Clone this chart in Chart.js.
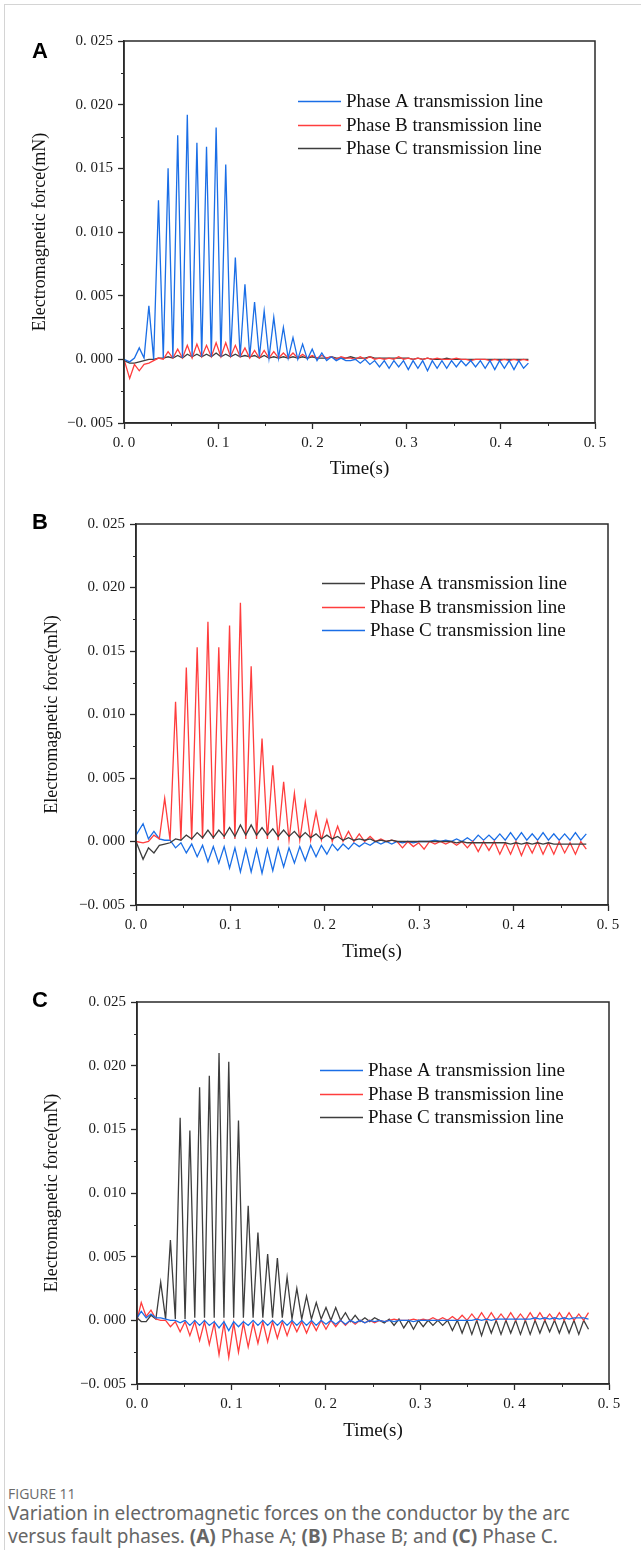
<!DOCTYPE html>
<html>
<head>
<meta charset="utf-8">
<script src="https://cdn.jsdelivr.net/npm/chart.js@4.4.1/dist/chart.umd.min.js"></script>
<style>
  body { margin: 0; background: #fff; }
  #page { position: relative; width: 641px; height: 1550px; overflow: hidden; background: #fff; }
  .frame { position: absolute; left: 4px; top: 4px; right: 0; bottom: 0; border-top: 1px solid #d4d4d4; border-left: 1px solid #d4d4d4; }
  canvas { position: absolute; left: 0; }
  .tag { position: absolute; left: 32px; font: bold 22px "Liberation Sans", Arial, sans-serif; line-height: 22px; color: #000; }
  .fig-no { position: absolute; left: 8px; top: 1485px; font: 500 14px "Open Sans", "Noto Sans", sans-serif; line-height: 18px; color: #6a6a6a; }
  .fig-text { position: absolute; left: 8px; top: 1502px; font: 19px "Noto Sans", "Open Sans", sans-serif; line-height: 23px; color: #666; }
  .fig-text b { font-weight: 700; }
</style>
</head>
<body>
<div id="page">
  <div class="frame"></div>
  <canvas id="chartA" width="641" height="480" style="top:0px"></canvas>
  <canvas id="chartB" width="641" height="486" style="top:480px"></canvas>
  <canvas id="chartC" width="641" height="490" style="top:966px"></canvas>
  <div class="tag" style="top:40px">A</div>
  <div class="tag" style="top:511px">B</div>
  <div class="tag" style="top:989px">C</div>
  <div class="fig-no">FIGURE 11</div>
  <div class="fig-text">Variation in electromagnetic forces on the conductor by the arc<br>versus fault phases. <b>(A)</b> Phase A; <b>(B)</b> Phase B; and <b>(C)</b> Phase C.</div>
</div>
<script>
// sample times (s) and forces (mN) for the fault on phase A
const timeA = [
  0, 0.006, 0.0111, 0.0162, 0.0213, 0.0264, 0.0315, 0.0366, 0.0417, 0.0468,
  0.0519, 0.057, 0.0621, 0.0672, 0.0723, 0.0774, 0.0825, 0.0876, 0.0927, 0.0978,
  0.1029, 0.108, 0.1131, 0.1182, 0.1233, 0.1284, 0.1335, 0.1386, 0.1437, 0.1488,
  0.1539, 0.159, 0.1641, 0.1692, 0.1743, 0.1794, 0.1845, 0.1896, 0.1947, 0.1998,
  0.2049, 0.21, 0.2151, 0.2202, 0.2253, 0.2304, 0.2355, 0.2406, 0.2457, 0.2508,
  0.2559, 0.261, 0.2661, 0.2712, 0.2763, 0.2814, 0.2865, 0.2916, 0.2967, 0.3018,
  0.3069, 0.312, 0.3171, 0.3222, 0.3273, 0.3324, 0.3375, 0.3426, 0.3477, 0.3528,
  0.3579, 0.363, 0.3681, 0.3732, 0.3783, 0.3834, 0.3885, 0.3936, 0.3987, 0.4038,
  0.4089, 0.414, 0.4191, 0.4242, 0.4293
];
const faultA_phaseA = [
  0.0000, -0.0002, 0.0001, 0.0009, 0.0001, 0.0042, 0.0000, 0.0125, 0.0001, 0.0150,
  0.0001, 0.0176, 0.0001, 0.0192, 0.0002, 0.0170, 0.0002, 0.0167, 0.0002, 0.0182,
  0.0002, 0.0153, 0.0002, 0.0080, 0.0002, 0.0059, 0.0002, 0.0045, 0.0002, 0.0038,
  0.0001, 0.0033, 0.0001, 0.0025, 0.0001, 0.0017, 0.0000, 0.0012, 0.0000, 0.0008,
  -0.0001, 0.0005, -0.0001, 0.0002, -0.0001, 0.0001, -0.0001, -0.0001, 0.0000, -0.0003,
  0.0000, -0.0004, -0.0001, -0.0006, -0.0001, -0.0007, -0.0001, -0.0006, -0.0001, -0.0008,
  -0.0001, -0.0007, -0.0001, -0.0009, -0.0001, -0.0007, -0.0001, -0.0007, -0.0001, -0.0006,
  -0.0001, -0.0005, -0.0001, -0.0006, -0.0001, -0.0007, -0.0001, -0.0008, -0.0001, -0.0007,
  -0.0001, -0.0008, -0.0001, -0.0007, -0.0003
];
const faultA_phaseB = [
  0.0000, -0.0015, -0.0004, -0.0009, -0.0004, -0.0003, -0.0001, 0.0001, 0.0000, 0.0006,
  0.0001, 0.0008, 0.0001, 0.0011, 0.0001, 0.0012, 0.0002, 0.0011, 0.0002, 0.0013,
  0.0002, 0.0013, 0.0002, 0.0011, 0.0002, 0.0009, 0.0001, 0.0007, 0.0001, 0.0007,
  0.0001, 0.0006, 0.0001, 0.0005, 0.0001, 0.0005, 0.0001, 0.0004, 0.0001, 0.0003,
  0.0001, 0.0003, 0.0001, 0.0002, 0.0000, 0.0002, 0.0001, 0.0001, 0.0000, 0.0002,
  0.0000, 0.0002, 0.0000, 0.0001, 0.0000, 0.0001, 0.0000, 0.0002, 0.0000, 0.0001,
  0.0000, 0.0001, 0.0000, 0.0001, 0.0000, 0.0001, 0.0000, 0.0000, 0.0000, 0.0001,
  0.0000, 0.0000, -0.0001, 0.0000, 0.0000, 0.0000, -0.0001, 0.0000, -0.0001, 0.0000,
  -0.0001, 0.0000, -0.0001, 0.0000, -0.0001
];
const faultA_phaseC = [
  -0.0001, -0.0003, -0.0003, -0.0002, -0.0001, 0.0000, 0.0000, 0.0001, 0.0001, 0.0002,
  0.0001, 0.0003, 0.0001, 0.0004, 0.0002, 0.0004, 0.0002, 0.0004, 0.0002, 0.0005,
  0.0002, 0.0004, 0.0002, 0.0004, 0.0002, 0.0003, 0.0002, 0.0003, 0.0001, 0.0003,
  0.0001, 0.0002, 0.0001, 0.0002, 0.0001, 0.0002, 0.0001, 0.0002, 0.0001, 0.0002,
  0.0001, 0.0001, 0.0001, 0.0002, 0.0001, 0.0001, 0.0001, 0.0002, 0.0001, 0.0001,
  0.0001, 0.0002, 0.0001, 0.0001, 0.0001, 0.0001, 0.0001, 0.0001, 0.0001, 0.0001,
  0.0000, 0.0001, 0.0000, 0.0001, 0.0000, 0.0000, 0.0000, 0.0001, 0.0000, 0.0000,
  0.0000, 0.0000, 0.0000, 0.0000, 0.0000, 0.0000, 0.0000, 0.0000, 0.0000, 0.0000,
  0.0000, 0.0000, 0.0000, 0.0000, 0.0000
];

// fault on phase B
const timeB = [
  0, 0.0075, 0.0132, 0.0190, 0.0247, 0.0304, 0.0361, 0.0419, 0.0476, 0.0533,
  0.0590, 0.0648, 0.0705, 0.0762, 0.0819, 0.0877, 0.0934, 0.0991, 0.1048, 0.1106,
  0.1163, 0.1220, 0.1277, 0.1335, 0.1392, 0.1449, 0.1506, 0.1564, 0.1621, 0.1678,
  0.1735, 0.1793, 0.1850, 0.1907, 0.1964, 0.2022, 0.2079, 0.2136, 0.2193, 0.2251,
  0.2308, 0.2365, 0.2422, 0.2480, 0.2537, 0.2594, 0.2651, 0.2709, 0.2766, 0.2823,
  0.2880, 0.2938, 0.2995, 0.3052, 0.3109, 0.3167, 0.3224, 0.3281, 0.3338, 0.3396,
  0.3453, 0.3510, 0.3567, 0.3625, 0.3682, 0.3739, 0.3796, 0.3854, 0.3911, 0.3968,
  0.4025, 0.4083, 0.4140, 0.4197, 0.4254, 0.4312, 0.4369, 0.4426, 0.4483, 0.4541,
  0.4598, 0.4655, 0.4712, 0.4770
];
const faultB_phaseA = [
  0.0000, -0.0014, -0.0005, -0.0009, -0.0003, -0.0002, -0.0001, 0.0002, 0.0001, 0.0005,
  0.0002, 0.0007, 0.0003, 0.0009, 0.0003, 0.0009, 0.0004, 0.0011, 0.0004, 0.0013,
  0.0005, 0.0013, 0.0005, 0.0011, 0.0005, 0.0010, 0.0004, 0.0009, 0.0004, 0.0008,
  0.0003, 0.0007, 0.0003, 0.0006, 0.0002, 0.0005, 0.0002, 0.0004, 0.0001, 0.0003,
  0.0001, 0.0002, 0.0001, 0.0002, 0.0000, 0.0001, 0.0000, 0.0001, 0.0000, 0.0000,
  0.0000, 0.0000, 0.0000, 0.0000, 0.0000, 0.0000, 0.0000, 0.0000, 0.0000, -0.0001,
  0.0000, -0.0001, -0.0001, -0.0001, -0.0001, -0.0001, -0.0001, -0.0001, -0.0001, -0.0002,
  -0.0001, -0.0002, -0.0001, -0.0002, -0.0001, -0.0002, -0.0001, -0.0002, -0.0002, -0.0002,
  -0.0002, -0.0002, -0.0002, -0.0002
];
const faultB_phaseB = [
  0.0000, -0.0001, 0.0000, 0.0005, 0.0002, 0.0034, 0.0001, 0.0110, 0.0001, 0.0137,
  0.0001, 0.0153, 0.0002, 0.0173, 0.0002, 0.0153, 0.0002, 0.0170, 0.0002, 0.0188,
  0.0002, 0.0138, 0.0002, 0.0081, 0.0002, 0.0060, 0.0001, 0.0047, 0.0001, 0.0038,
  0.0001, 0.0031, 0.0001, 0.0023, 0.0001, 0.0017, 0.0000, 0.0012, 0.0000, 0.0008,
  0.0000, 0.0006, 0.0000, 0.0004, 0.0000, 0.0002, 0.0000, 0.0001, 0.0000, -0.0005,
  0.0000, -0.0004, -0.0001, -0.0006, 0.0000, -0.0002, 0.0000, -0.0002, 0.0000, -0.0003,
  0.0000, -0.0005, 0.0000, -0.0008, 0.0000, -0.0007, 0.0000, -0.0010, -0.0001, -0.0010,
  0.0000, -0.0011, -0.0001, -0.0009, 0.0000, -0.0010, -0.0001, -0.0010, 0.0000, -0.0009,
  -0.0001, -0.0010, 0.0000, -0.0006
];
const faultB_phaseC = [
  0.0005, 0.0014, 0.0002, 0.0008, 0.0002, 0.0001, 0.0001, -0.0005, -0.0001, -0.0009,
  -0.0002, -0.0012, -0.0003, -0.0016, -0.0004, -0.0017, -0.0004, -0.0021, -0.0005, -0.0024,
  -0.0006, -0.0024, -0.0006, -0.0025, -0.0006, -0.0023, -0.0005, -0.0020, -0.0005, -0.0017,
  -0.0004, -0.0015, -0.0003, -0.0012, -0.0003, -0.0010, -0.0002, -0.0007, -0.0002, -0.0006,
  -0.0001, -0.0004, -0.0001, -0.0003, 0.0000, -0.0002, 0.0000, -0.0002, 0.0000, -0.0001,
  0.0000, -0.0001, 0.0000, 0.0000, 0.0000, 0.0001, 0.0000, 0.0001, 0.0000, 0.0002,
  0.0000, 0.0003, 0.0000, 0.0005, 0.0001, 0.0005, 0.0001, 0.0006, 0.0001, 0.0007,
  0.0001, 0.0007, 0.0001, 0.0006, 0.0001, 0.0007, 0.0001, 0.0006, 0.0001, 0.0006,
  0.0001, 0.0007, 0.0001, 0.0006
];

// fault on phase C
const timeC = [
  0, 0.0045, 0.0097, 0.0148, 0.0200, 0.0251, 0.0303, 0.0354, 0.0406, 0.0457,
  0.0509, 0.0560, 0.0612, 0.0663, 0.0715, 0.0766, 0.0818, 0.0869, 0.0921, 0.0972,
  0.1024, 0.1075, 0.1127, 0.1178, 0.1230, 0.1281, 0.1333, 0.1384, 0.1436, 0.1487,
  0.1539, 0.1590, 0.1642, 0.1693, 0.1745, 0.1796, 0.1848, 0.1899, 0.1951, 0.2002,
  0.2054, 0.2105, 0.2157, 0.2208, 0.2260, 0.2311, 0.2363, 0.2414, 0.2466, 0.2517,
  0.2569, 0.2620, 0.2672, 0.2723, 0.2775, 0.2826, 0.2878, 0.2929, 0.2981, 0.3032,
  0.3084, 0.3135, 0.3187, 0.3238, 0.3290, 0.3341, 0.3393, 0.3444, 0.3496, 0.3547,
  0.3599, 0.3650, 0.3702, 0.3753, 0.3805, 0.3856, 0.3908, 0.3959, 0.4011, 0.4062,
  0.4114, 0.4165, 0.4217, 0.4268, 0.4320, 0.4371, 0.4423, 0.4474, 0.4526, 0.4577,
  0.4629, 0.4680, 0.4732, 0.4783
];
const faultC_phaseA = [
  0.0002, 0.0007, 0.0002, 0.0005, 0.0002, 0.0002, 0.0001, 0.0000, 0.0000, -0.0002,
  0.0000, -0.0004, 0.0000, -0.0004, 0.0000, -0.0004, -0.0001, -0.0006, -0.0001, -0.0008,
  -0.0001, -0.0005, -0.0001, -0.0004, 0.0000, -0.0004, 0.0000, -0.0004, 0.0000, -0.0004,
  0.0000, -0.0004, 0.0000, -0.0004, 0.0000, -0.0004, 0.0000, -0.0004, 0.0000, -0.0003,
  0.0000, -0.0003, 0.0000, -0.0003, 0.0000, -0.0002, 0.0000, -0.0002, 0.0000, -0.0001,
  0.0000, -0.0001, 0.0000, -0.0001, 0.0000, 0.0000, 0.0000, -0.0001, 0.0000, 0.0000,
  0.0000, 0.0000, 0.0000, 0.0000, 0.0000, 0.0000, 0.0000, 0.0000, 0.0000, 0.0000,
  0.0001, 0.0000, 0.0001, 0.0000, 0.0001, 0.0001, 0.0001, 0.0001, 0.0001, 0.0001,
  0.0001, 0.0001, 0.0002, 0.0001, 0.0002, 0.0001, 0.0002, 0.0001, 0.0002, 0.0001,
  0.0002, 0.0002, 0.0002, 0.0001
];
const faultC_phaseB = [
  0.0000, 0.0014, 0.0003, 0.0008, 0.0001, 0.0000, 0.0000, -0.0005, -0.0001, -0.0009,
  -0.0001, -0.0012, -0.0001, -0.0016, -0.0001, -0.0019, -0.0002, -0.0027, -0.0002, -0.0029,
  -0.0002, -0.0025, -0.0002, -0.0021, -0.0002, -0.0018, -0.0001, -0.0017, -0.0001, -0.0014,
  -0.0001, -0.0012, -0.0001, -0.0009, -0.0001, -0.0010, -0.0001, -0.0008, 0.0000, -0.0007,
  0.0000, -0.0005, 0.0000, -0.0004, 0.0000, -0.0003, 0.0000, -0.0002, 0.0000, -0.0002,
  0.0000, -0.0001, 0.0000, 0.0001, 0.0000, 0.0000, 0.0000, 0.0001, 0.0000, 0.0001,
  0.0000, 0.0002, 0.0000, 0.0002, 0.0000, 0.0003, 0.0000, 0.0004, 0.0000, 0.0005,
  0.0000, 0.0006, 0.0000, 0.0006, 0.0000, 0.0005, 0.0000, 0.0006, 0.0000, 0.0005,
  0.0000, 0.0006, 0.0000, 0.0006, 0.0000, 0.0005, 0.0000, 0.0006, 0.0000, 0.0006,
  0.0000, 0.0005, 0.0000, 0.0006
];
const faultC_phaseC = [
  0.0002, -0.0001, -0.0001, 0.0004, 0.0001, 0.0030, 0.0001, 0.0063, 0.0001, 0.0159,
  0.0001, 0.0149, 0.0002, 0.0183, 0.0002, 0.0192, 0.0002, 0.0210, 0.0002, 0.0203,
  0.0002, 0.0157, 0.0002, 0.0090, 0.0002, 0.0069, 0.0002, 0.0052, 0.0002, 0.0049,
  0.0002, 0.0034, 0.0001, 0.0025, 0.0001, 0.0019, 0.0001, 0.0014, 0.0001, 0.0010,
  0.0000, 0.0010, 0.0000, 0.0006, -0.0001, 0.0004, -0.0001, 0.0002, -0.0001, 0.0002,
  0.0000, -0.0002, 0.0001, -0.0004, 0.0001, -0.0006, 0.0000, -0.0007, 0.0000, -0.0005,
  0.0000, -0.0004, 0.0000, -0.0004, 0.0000, -0.0008, 0.0000, -0.0010, 0.0000, -0.0011,
  0.0000, -0.0012, 0.0000, -0.0010, 0.0000, -0.0011, 0.0000, -0.0010, 0.0000, -0.0011,
  0.0000, -0.0011, 0.0000, -0.0010, 0.0000, -0.0009, 0.0000, -0.0010, 0.0000, -0.0010,
  0.0000, -0.0011, 0.0000, -0.0007
];

const xMinorTicks = [0.05, 0.15, 0.25, 0.35, 0.45];
const yMinorTicks = [-0.0025, 0.0025, 0.0075, 0.0125, 0.0175, 0.0225];

const BLUE = '#1a6ee6';
const RED = '#ff3d3d';
const DARK = '#3d3d3d';
const AXIS = '#2a2a2a';
const serif = '"Liberation Serif", "Times New Roman", serif';

function formatForce(value) {
  const text = Math.abs(value).toFixed(3).replace('.', '. ');
  return value < -1e-9 ? '\u2212' + text : text;
}

function formatTime(value) {
  return value.toFixed(1).replace('.', '. ');
}

// closed box round the plot plus the short minor ticks
const boxPlugin = {
  id: 'box',
  afterDatasetsDraw(chart) {
    const { ctx, chartArea: a, scales: { x, y } } = chart;
    ctx.save();
    ctx.strokeStyle = AXIS;
    ctx.lineWidth = 1.5;
    ctx.strokeRect(a.left, a.top, a.right - a.left, a.bottom - a.top);
    ctx.lineWidth = 1;
    ctx.beginPath();
    xMinorTicks.forEach(v => {
      const px = Math.round(x.getPixelForValue(v)) + 0.5;
      ctx.moveTo(px, a.bottom);
      ctx.lineTo(px, a.bottom + 3);
    });
    yMinorTicks.forEach(v => {
      const py = Math.round(y.getPixelForValue(v)) + 0.5;
      ctx.moveTo(a.left, py);
      ctx.lineTo(a.left - 3, py);
    });
    ctx.stroke();
    ctx.restore();
  }
};

// legend sitting inside the plot area
const insideLegend = {
  id: 'insideLegend',
  afterDraw(chart, args, opts) {
    const { ctx, chartArea: a } = chart;
    ctx.save();
    ctx.font = '19px ' + serif;
    ctx.textBaseline = 'middle';
    chart.data.datasets.forEach((ds, i) => {
      const x = a.left + opts.left;
      const y = Math.round(a.top + opts.top + i * opts.gap) + 0.5;
      ctx.strokeStyle = ds.borderColor;
      ctx.lineWidth = 1.6;
      ctx.beginPath();
      ctx.moveTo(x, y);
      ctx.lineTo(x + 43, y);
      ctx.stroke();
      ctx.fillStyle = '#111';
      ctx.fillText(ds.label, x + 48, y + 1);
    });
    ctx.restore();
  }
};

function crearPanel(id, times, series, box) {
  const ctx = document.getElementById(id).getContext('2d');
  const canvasHeight = ctx.canvas.height;

  new Chart(ctx, {
    type: 'line',
    data: {
      datasets: series.map(s => ({
        label: s.label,
        data: times.map((t, i) => ({ x: t, y: s.values[i] })),
        borderColor: s.color,
        borderWidth: 1.3,
        pointRadius: 0,
        tension: 0,
        fill: false
      }))
    },
    options: {
      responsive: false,
      animation: false,
      layout: {
        padding: { top: box.top, right: 641 - box.right, left: 0, bottom: 0 }
      },
      plugins: {
        legend: { display: false },
        tooltip: { enabled: false },
        insideLegend: box.legend
      },
      scales: {
        x: {
          type: 'linear',
          min: 0,
          max: 0.5,
          afterFit: scale => { scale.height = canvasHeight - box.bottom; },
          ticks: {
            stepSize: 0.1,
            padding: 5,
            maxRotation: 0,
            color: '#1a1a1a',
            font: { family: serif, size: 15 },
            callback: formatTime
          },
          grid: { drawOnChartArea: false, tickLength: 6, tickColor: AXIS, tickWidth: 1.3 },
          border: { color: AXIS, width: 1.5 },
          title: {
            display: true,
            text: 'Time(s)',
            color: '#111',
            font: { family: serif, size: 19 },
            padding: { top: 0, bottom: canvasHeight - box.xTitle - 11.4 }
          }
        },
        y: {
          min: -0.005,
          max: 0.025,
          afterFit: scale => { scale.width = box.left; },
          ticks: {
            stepSize: 0.005,
            padding: 5,
            color: '#1a1a1a',
            font: { family: serif, size: 15 },
            callback: formatForce
          },
          grid: { drawOnChartArea: false, tickLength: 6, tickColor: AXIS, tickWidth: 1.3 },
          border: { color: AXIS, width: 1.5 },
          title: {
            display: true,
            text: 'Electromagnetic force(mN)',
            color: '#111',
            font: { family: serif, size: 18 },
            padding: { top: box.yTitle - 10.8, bottom: 0 }
          }
        }
      }
    },
    plugins: [boxPlugin, insideLegend]
  });
}

crearPanel('chartA', timeA, [
  { label: 'Phase A transmission line', values: faultA_phaseA, color: BLUE },
  { label: 'Phase B transmission line', values: faultA_phaseB, color: RED },
  { label: 'Phase C transmission line', values: faultA_phaseC, color: DARK }
], { left: 124, right: 595, top: 41, bottom: 423, xTitle: 469, yTitle: 40,
     legend: { left: 174, top: 60, gap: 23.5 } });

crearPanel('chartB', timeB, [
  { label: 'Phase A transmission line', values: faultB_phaseA, color: DARK },
  { label: 'Phase B transmission line', values: faultB_phaseB, color: RED },
  { label: 'Phase C transmission line', values: faultB_phaseC, color: BLUE }
], { left: 136, right: 608, top: 44, bottom: 425, xTitle: 472, yTitle: 52,
     legend: { left: 186, top: 59, gap: 23.5 } });

crearPanel('chartC', timeC, [
  { label: 'Phase A transmission line', values: faultC_phaseA, color: BLUE },
  { label: 'Phase B transmission line', values: faultC_phaseB, color: RED },
  { label: 'Phase C transmission line', values: faultC_phaseC, color: DARK }
], { left: 137, right: 609, top: 36, bottom: 418, xTitle: 465, yTitle: 52,
     legend: { left: 183, top: 68, gap: 23.5 } });
</script>
</body>
</html>
